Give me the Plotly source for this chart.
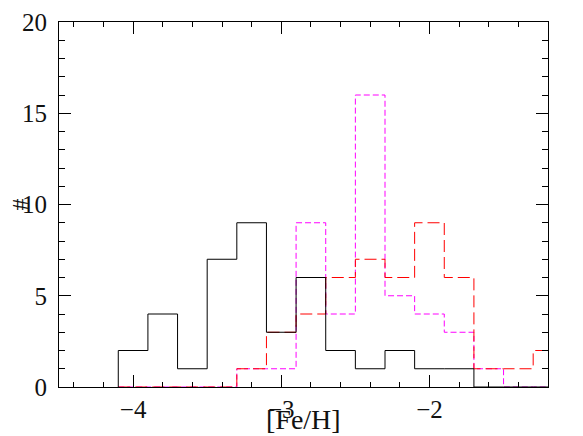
import plotly.graph_objects as go

# histogram bins: left edges, width 0.2 dex
bin_left = [-4.1, -3.9, -3.7, -3.5, -3.3, -3.1, -2.9, -2.7, -2.5, -2.3, -2.1, -1.9, -1.7, -1.5, -1.3]
bin_width = 0.2

counts_black = [2, 4, 1, 7, 9, 3, 6, 2, 1, 2, 1, 1, 0, 0, 0]
counts_red = [0, 0, 0, 0, 1, 3, 4, 6, 7, 6, 9, 6, 1, 1, 2]
counts_magenta = [0, 0, 0, 0, 1, 1, 9, 4, 16, 5, 4, 3, 1, 0, 0]

x_ticks = [-4, -3, -2]
y_ticks = [0, 5, 10, 15, 20]

FONT = "Liberation Serif"


def step_xy(left, width, counts):
    # outline of a histogram: start at baseline, go up, step across, end at last edge
    xs = [left[0]] + list(left) + [left[-1] + width]
    ys = [0] + list(counts) + [counts[-1]]
    return xs, ys


fig = go.Figure()

# magenta first, black last so it sits on top like the original
for counts, color, dash in [
    (counts_magenta, "#ff00ff", "6px,3px"),
    (counts_red, "#ff0000", "12px,5px"),
    (counts_black, "black", "solid"),
]:
    xs, ys = step_xy(bin_left, bin_width, counts)
    fig.add_trace(go.Scatter(
        x=xs, y=ys,
        mode="lines",
        line=dict(color=color, width=1, dash=dash, shape="hv"),
        showlegend=False,
        hoverinfo="skip",
    ))

axis_common = dict(
    showline=True, linecolor="black", linewidth=1,
    mirror="ticks", ticks="inside", tickcolor="black",
    ticklen=12, tickwidth=1,
    showgrid=False, zeroline=False, automargin=False,
    tickfont=dict(family=FONT, size=25, color="#111111"),
)

fig.update_xaxes(
    range=[-4.5, -1.2],
    tickvals=x_ticks,
    minor=dict(dtick=0.2, tick0=-4, ticks="inside", ticklen=5, tickcolor="black", showgrid=False),
    **axis_common,
)
fig.update_yaxes(
    range=[0, 20],
    tickvals=y_ticks,
    ticklabelstandoff=6,
    minor=dict(dtick=1, tick0=0, ticks="inside", ticklen=6, tickcolor="black", showgrid=False),
    **axis_common,
)

# axis titles sit where the original puts them, overlapping the tick labels
fig.add_annotation(
    text="[Fe/H]", xref="paper", yref="paper", x=0.5, y=-0.088,
    xanchor="center", yanchor="middle", showarrow=False,
    font=dict(family=FONT, size=28, color="#111111"),
)
fig.add_annotation(
    text="#", xref="paper", yref="paper", x=-0.08, y=0.5,
    xanchor="center", yanchor="middle", showarrow=False, textangle=-90,
    font=dict(family=FONT, size=24, color="#111111"),
)

fig.update_layout(
    width=583, height=436,
    margin=dict(l=51, r=43, t=14, b=57),
    paper_bgcolor="white", plot_bgcolor="white",
)

fig.write_html("out.html")
